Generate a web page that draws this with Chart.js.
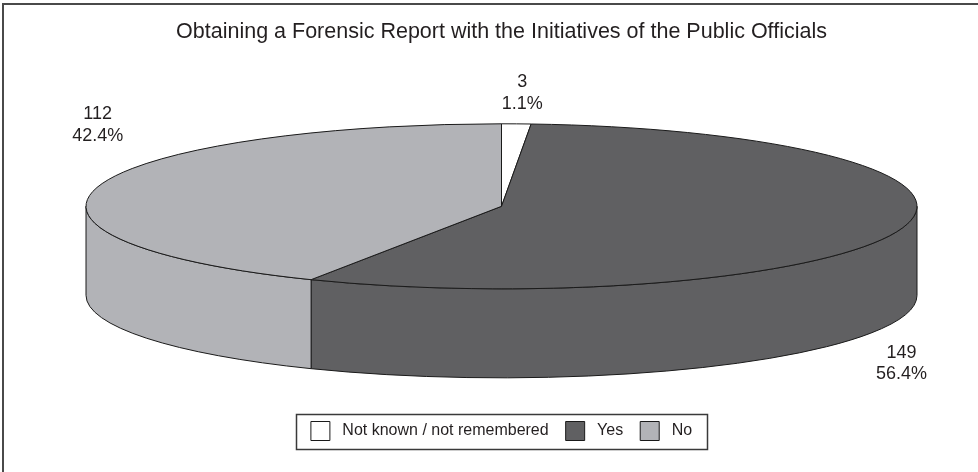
<!DOCTYPE html>
<html><head><meta charset="utf-8">
<script src="https://cdn.jsdelivr.net/npm/chart.js@4.4.1/dist/chart.umd.min.js"></script>
<style>html,body{margin:0;padding:0;background:#fff;}#wrap{width:978px;height:472px;}</style>
</head><body><div id="wrap"><canvas id="c" width="978" height="472"></canvas></div>
<script>
// ---- data ----
const titleText = 'Obtaining a Forensic Report with the Initiatives of the Public Officials';
const categories = ['Not known / not remembered', 'Yes', 'No'];
const counts = [3, 149, 112];
const sliceColors = ['#ffffff', '#606062', '#b2b3b7'];

const FONT = "'Liberation Sans', Arial, Helvetica, sans-serif";
const INK = '#231f20';
const EDGE = '#1a1a1a';

function geom(chart, opts) {
  const ca = chart.chartArea;
  const rx = (ca.right - ca.left) / 2;
  const ry = rx * opts.tilt;
  const depth = rx * opts.depth;
  return {rx, ry, depth, cx: (ca.left + ca.right) / 2, cy: ca.top + ry};
}

const pie3d = {
  id: 'pie3d',
  beforeDatasetsDraw(chart, args, opts) {
    const meta = chart.getDatasetMeta(0);
    const ctx = chart.ctx;
    const g = geom(chart, opts);
    ctx.save();
    ctx.lineWidth = opts.lineWidth;
    ctx.strokeStyle = EDGE;
    ctx.lineJoin = 'round';
    // front walls
    meta.data.forEach((arc) => {
      const s = Math.max(arc.startAngle, 0);
      const e = Math.min(arc.endAngle, Math.PI);
      if (e <= s) return;
      ctx.beginPath();
      ctx.ellipse(g.cx, g.cy, g.rx, g.ry, 0, s, e, false);
      ctx.lineTo(g.cx + g.rx * Math.cos(e), g.cy + g.depth + g.ry * Math.sin(e));
      ctx.ellipse(g.cx, g.cy + g.depth, g.rx, g.ry, 0, e, s, true);
      ctx.closePath();
      ctx.fillStyle = arc.options.backgroundColor;
      ctx.fill();
      ctx.stroke();
    });
    // top faces
    meta.data.forEach((arc) => {
      ctx.beginPath();
      ctx.moveTo(g.cx, g.cy);
      ctx.ellipse(g.cx, g.cy, g.rx, g.ry, 0, arc.startAngle, arc.endAngle, false);
      ctx.closePath();
      ctx.fillStyle = arc.options.backgroundColor;
      ctx.fill();
      ctx.stroke();
    });
    ctx.restore();
    return false;
  },
  afterDraw(chart, args, opts) {
    const ctx = chart.ctx;
    const meta = chart.getDatasetMeta(0);
    const g = geom(chart, opts);
    const vals = chart.data.datasets[0].data;
    const total = vals.reduce((a, b) => a + b, 0);
    ctx.save();
    // data labels
    ctx.font = opts.labelFontSize + 'px ' + FONT;
    ctx.fillStyle = INK;
    ctx.textAlign = 'center';
    ctx.textBaseline = 'middle';
    const lh = opts.labelFontSize * 1.2;
    meta.data.forEach((arc, i) => {
      const mid = (arc.startAngle + arc.endAngle) / 2;
      const sn = Math.sin(mid);
      const ax = g.cx + g.rx * Math.cos(mid);
      const ay = g.cy + g.ry * sn + (sn > 0 ? g.depth : 0);
      const sh = opts.labelShift[i];
      const x = ax + sh[0], y = ay + sh[1];
      ctx.fillText(String(vals[i]), x, y - lh / 2);
      ctx.fillText((vals[i] / total * 100).toFixed(1) + '%', x, y + lh / 2);
    });
    // legend frame
    const hb = chart.legend.legendHitBoxes;
    if (hb && hb.length) {
      const first = hb[0], last = hb[hb.length - 1];
      const midY = first.top + first.height / 2;
      const l = first.left - opts.legendPadX;
      const r = last.left + last.width + opts.legendPadX;
      ctx.strokeStyle = '#3a3a3a';
      ctx.lineWidth = 1.5;
      ctx.strokeRect(Math.round(l) + 0.5, Math.round(midY - opts.legendBoxH / 2) + 0.5,
                     Math.round(r - l), Math.round(opts.legendBoxH));
    }
    // outer frame (top + left edges)
    ctx.strokeStyle = '#4a4a4a';
    ctx.lineWidth = 2;
    ctx.beginPath();
    ctx.moveTo(3, chart.height);
    ctx.lineTo(3, 4);
    ctx.lineTo(chart.width, 4);
    ctx.stroke();
    ctx.restore();
  }
};

Chart.defaults.font.family = FONT;

new Chart(document.getElementById('c'), {
  type: 'pie',
  data: {
    labels: categories,
    datasets: [{data: counts, backgroundColor: sliceColors, borderColor: EDGE, borderWidth: 1}]
  },
  options: {
    responsive: false,
    animation: false,
    layout: {padding: {left: 86, right: 61, top: 0, bottom: 21.5}},
    plugins: {
      title: {
        display: true, text: titleText, color: INK,
        font: {family: FONT, size: 21.5, weight: 'normal'},
        padding: {top: 19, bottom: 79}
      },
      legend: {
        position: 'bottom',
        labels: {
          boxWidth: 19, boxHeight: 19, padding: 17, color: INK,
          font: {family: FONT, size: 16},
          generateLabels(chart) {
            const ds = chart.data.datasets[0];
            return chart.data.labels.map((l, i) => ({
              text: ' ' + l, fillStyle: ds.backgroundColor[i], strokeStyle: EDGE,
              lineWidth: 1, hidden: false, index: i, fontColor: INK
            }));
          }
        }
      },
      tooltip: {enabled: false},
      pie3d: {
        tilt: 0.1986, depth: 0.2142, lineWidth: 1, labelFontSize: 18,
        labelShift: [[6, -31], [0, 46], [0, -62]],
        legendPadX: 15, legendBoxH: 35
      }
    }
  },
  plugins: [pie3d]
});
</script>
</body></html>
